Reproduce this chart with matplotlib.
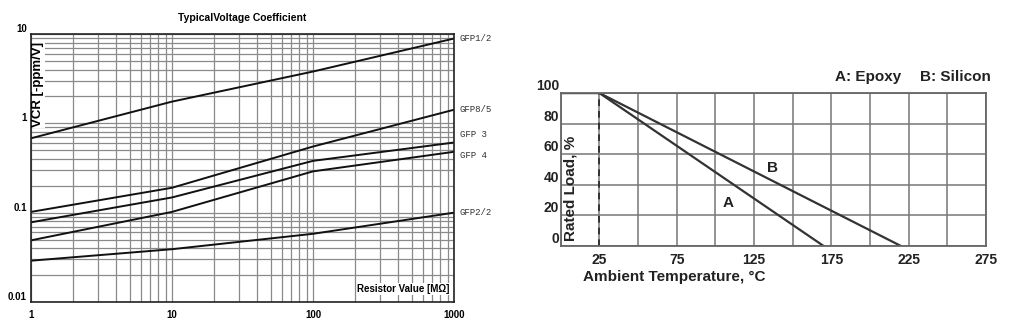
import numpy as np
import matplotlib
matplotlib.use("Agg")
import matplotlib.pyplot as plt
from matplotlib.transforms import Bbox, TransformedBbox

# Left chart data: typical voltage coefficient vs resistor value
res_mohm = [1, 10, 100, 1000]
vcr_gfp1_2 = [0.68, 1.75, 3.8, 8.9]
vcr_gfp8_5 = [0.102, 0.19, 0.55, 1.42]
vcr_gfp3 = [0.078, 0.148, 0.38, 0.61]
vcr_gfp4 = [0.049, 0.102, 0.29, 0.48]
vcr_gfp2_2 = [0.029, 0.039, 0.058, 0.10]
series_names = ['GFP1/2', 'GFP8/5', 'GFP 3', 'GFP 4', 'GFP2/2']
label_shift = [0, 0, 6, -3, 0]  # small vertical nudges (points) for end labels

# Right chart data: derating curves
temp_a = [0, 25, 170]
load_a = [100, 100, 0]
temp_b = [0, 25, 220]
load_b = [100, 100, 0]
temp_ticks = [25, 75, 125, 175, 225, 275]
load_ticks = [0, 20, 40, 60, 80, 100]

sans = ['Liberation Sans Narrow', 'Liberation Sans', 'DejaVu Sans']
mono = ['Liberation Mono', 'DejaVu Sans Mono']

fig = plt.figure(figsize=(10.21, 3.34), dpi=100)
W, H = 1021, 334

# ---------------- left chart ----------------
ax = fig.add_axes([31 / W, (H - 302) / H, 423 / W, 268 / H])
ax.set_xscale('log')
ax.set_yscale('log')
ax.set_xlim(1, 1000)
ax.set_ylim(0.01, 10)
ax.grid(True, which='both', color='#8a8a8a', lw=0.9)
ax.set_axisbelow(True)

all_vcr = [vcr_gfp1_2, vcr_gfp8_5, vcr_gfp3, vcr_gfp4, vcr_gfp2_2]
for vals, name, dy in zip(all_vcr, series_names, label_shift):
    ax.plot(res_mohm, vals, color='#111111', lw=1.4)
    ax.annotate(name, xy=(1, vals[-1]), xycoords=('axes fraction', 'data'),
                xytext=(4, dy), textcoords='offset points', va='center', ha='left',
                fontsize=6.5, family=mono, color='#333333', annotation_clip=False)

for sp in ax.spines.values():
    sp.set_color('#222222')
    sp.set_linewidth(1.2)

ax.set_xticks([1, 10, 100, 1000])
ax.set_xticklabels(['1', '10', '100', '1000'])
ax.set_yticks([0.01, 0.1, 1, 10])
ax.set_yticklabels(['0.01', '0.1', '1', '10'])
ax.tick_params(which='both', length=0, labelsize=7)
ax.tick_params(axis='x', pad=6)
ax.tick_params(axis='y', pad=3)
for lab in ax.get_xticklabels() + ax.get_yticklabels():
    lab.set_fontweight('bold')
    lab.set_family(sans)
for lab in ax.get_yticklabels():
    lab.set_verticalalignment('bottom')

ax.text(0.5, 1.04, 'TypicalVoltage Coefficient', transform=ax.transAxes, ha='center',
        va='bottom', fontsize=7.5, fontweight='bold', family=sans)
ax.text(0.017, 0.97, 'VCR [-ppm/V]', transform=ax.transAxes, rotation=90, ha='center',
        va='top', fontsize=9.5, fontweight='bold', family=sans,
        bbox=dict(facecolor='white', edgecolor='none', pad=0.5))
ax.text(0.99, 0.03, 'Resistor Value [M\u03a9]', transform=ax.transAxes, ha='right',
        va='bottom', fontsize=7, fontweight='bold', family=sans,
        bbox=dict(facecolor='white', edgecolor='none', pad=0.5))

# ---------------- right chart ----------------
ax2 = fig.add_axes([560.7 / W, (H - 246) / H, 425.3 / W, 153 / H])
ax2.set_xlim(0, 275)
ax2.set_ylim(0, 100)
ax2.set_xticks(np.arange(0, 276, 25), minor=True)
ax2.set_xticks(temp_ticks)
ax2.set_yticks(load_ticks)
ax2.grid(True, which='both', color='#777777', lw=1.1)
ax2.set_axisbelow(True)
for sp in ax2.spines.values():
    sp.set_color('#666666')
    sp.set_linewidth(1.3)

ax2.axvline(25, color='#222222', ls=(0, (4, 3)), lw=1.2)
ax2.plot(temp_a, load_a, color='#333333', lw=1.6)
ax2.plot(temp_b, load_b, color='#333333', lw=1.6)
ax2.text(108, 28, 'A', fontsize=11, fontweight='bold', family=sans, ha='center', va='center',
         color='#222222')
ax2.text(137, 51, 'B', fontsize=11, fontweight='bold', family=sans, ha='center', va='center',
         color='#222222')

ax2.tick_params(which='both', length=0, labelsize=10)
ax2.tick_params(axis='x', pad=5)
ax2.tick_params(axis='y', pad=1)
for lab in ax2.get_xticklabels() + ax2.get_yticklabels():
    lab.set_fontweight('bold')
    lab.set_family(sans)
    lab.set_color('#222222')
for lab in ax2.get_yticklabels():
    lab.set_verticalalignment('bottom')

ax2.text(0.022, 0.03, 'Rated Load, %', transform=ax2.transAxes, rotation=90, ha='center',
         va='bottom', fontsize=11, fontweight='bold', family=sans, color='#222222')
fig.text(583 / W, (H - 277) / H, 'Ambient Temperature, \u00b0C', ha='left', va='center',
         fontsize=11, fontweight='bold', family=sans, color='#222222')
fig.text(835 / W, (H - 77) / H, 'A: Epoxy', ha='left', va='center', fontsize=11,
         fontweight='bold', family=sans, color='#222222')
t = fig.text(920 / W, (H - 77) / H, 'B: Silicon', ha='left', va='center', fontsize=11,
             fontweight='bold', family=sans, color='#222222')
t.set_clip_box(TransformedBbox(Bbox([[0, 0], [990 / W, 1]]), fig.transFigure))
t.set_clip_on(True)

fig.savefig('out.png', dpi=100)
